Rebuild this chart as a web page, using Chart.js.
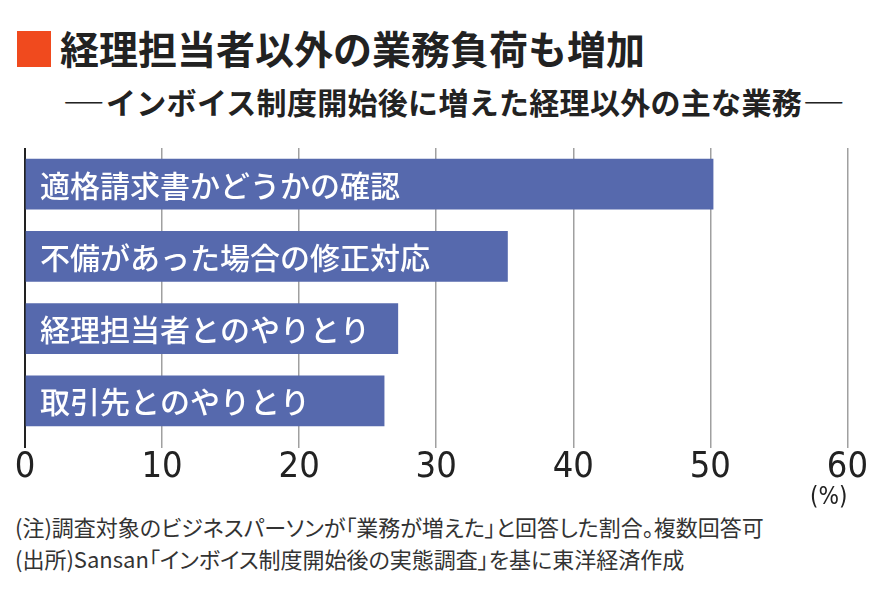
<!DOCTYPE html>
<html lang="ja">
<head>
<meta charset="utf-8">
<script src="https://cdn.jsdelivr.net/npm/chart.js@4"></script>
<style>
  html, body { margin: 0; padding: 0; background: #fff; }
  body { width: 870px; height: 602px; position: relative; overflow: hidden; font-family: "Noto Sans CJK JP", sans-serif; color: #222; }
  .mark { position: absolute; left: 17px; top: 31px; width: 34px; height: 36px; background: #f04a1e; }
  .title { position: absolute; left: 60px; top: 23px; font-size: 39px; font-weight: bold; line-height: 48px; white-space: nowrap; }
  .subtitle { position: absolute; left: 62px; top: 83px; font-size: 30px; font-weight: bold; line-height: 36px; white-space: nowrap; letter-spacing: 0.3px; }
  .dash { display: inline-block; width: 44px; transform: scaleX(1.45); transform-origin: left center; }
  .chart-box { position: absolute; left: 0; top: 0; width: 870px; height: 510px; }
  .note { position: absolute; left: 15px; font-size: 22px; line-height: 30px; color: #333; white-space: nowrap; font-feature-settings: "palt"; }
</style>
</head>
<body>
<div class="mark"></div>
<div class="title">経理担当者以外の業務負荷も増加</div>
<div class="subtitle"><span class="dash">―</span>インボイス制度開始後に増えた経理以外の主な業務<span class="dash">―</span></div>
<div class="chart-box"><canvas id="chart"></canvas></div>
<div class="note" style="top:511px">(注)調査対象のビジネスパーソンが「業務が増えた」と回答した割合。複数回答可</div>
<div class="note" style="top:543px">(出所)Sansan「インボイス制度開始後の実態調査」を基に東洋経済作成</div>

<script>
// データ
const categories = ['適格請求書かどうかの確認', '不備があった場合の修正対応', '経理担当者とのやりとり', '取引先とのやりとり'];
const values = [50.2, 35.2, 27.2, 26.2];
const tickValues = [0, 10, 20, 30, 40, 50, 60];
const unitLabel = '(%)';

// バーの中に項目名を白文字で描く
const barLabels = {
    id: 'barLabels',
    afterDatasetsDraw(chart) {
        const ctx = chart.ctx;
        const meta = chart.getDatasetMeta(0);
        ctx.save();
        ctx.font = '500 30px "Noto Sans CJK JP"';
        ctx.fillStyle = '#ffffff';
        ctx.textBaseline = 'middle';
        meta.data.forEach((bar, i) => {
            ctx.fillText(categories[i], chart.chartArea.left + 15, bar.y + 1);
        });
        ctx.restore();
    }
};

const tickFont = '"DejaVu Sans Condensed", "Liberation Sans Narrow", "Roboto Condensed", "Roboto", sans-serif';

const ctx = document.getElementById('chart').getContext('2d');
new Chart(ctx, {
    type: 'bar',
    data: {
        labels: categories,
        datasets: [{
            data: values,
            backgroundColor: '#5669ad',
            barThickness: 50
        }]
    },
    options: {
        indexAxis: 'y',
        responsive: true,
        maintainAspectRatio: false,
        animation: false,
        layout: { padding: { left: 25, right: 22, top: 148, bottom: 0 } },
        plugins: {
            legend: { display: false },
            tooltip: { enabled: false }
        },
        scales: {
            x: {
                min: 0,
                max: 60,
                afterBuildTicks(scale) {
                    scale.ticks = tickValues.map(v => ({ value: v }));
                },
                border: { display: false },
                grid: {
                    color: c => c.tick && c.tick.value === 0 ? '#222' : '#a0a0a0',
                    lineWidth: c => c.tick && c.tick.value === 0 ? 2 : 1.5,
                    tickLength: 11,
                    drawTicks: true
                },
                ticks: {
                    color: '#222',
                    padding: 2,
                    font: { family: tickFont, size: 36, lineHeight: 1.0 }
                },
                title: {
                    display: true,
                    text: unitLabel,
                    align: 'end',
                    color: '#222',
                    padding: { top: -2, bottom: 0 },
                    font: { family: tickFont, size: 24, lineHeight: 1.0 }
                }
            },
            y: {
                display: false
            }
        }
    },
    plugins: [barLabels]
});
</script>
</body>
</html>
